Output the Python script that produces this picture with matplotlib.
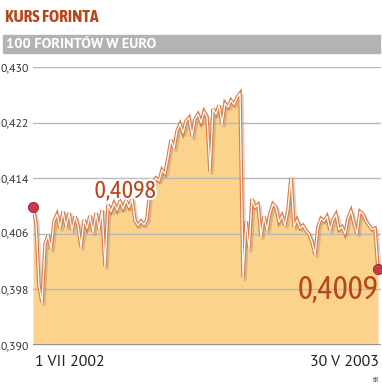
import numpy as np
import matplotlib
matplotlib.use("Agg")
import matplotlib.pyplot as plt
from matplotlib import transforms
import matplotlib.patheffects as pe

# -----------------------------
# data (100 HUF in EUR)
# -----------------------------
rates = [
    0.4098, 0.4075, 0.3985, 0.3961, 0.4045, 0.4058, 0.4038, 0.4078, 0.4088, 0.4068,
    0.4092, 0.4070, 0.4090, 0.4065, 0.4085, 0.4072, 0.4041, 0.4080, 0.4068, 0.4086,
    0.4062, 0.4090, 0.4066, 0.4094, 0.4013, 0.4102, 0.4092, 0.4104, 0.4094, 0.4107,
    0.4096, 0.4108, 0.4098, 0.4110, 0.4079, 0.4072, 0.4078, 0.4073, 0.4081, 0.4125,
    0.4132, 0.4140, 0.4136, 0.4152, 0.4146, 0.4170, 0.4195, 0.4183, 0.4208, 0.4218,
    0.4205, 0.4222, 0.4227, 0.4200, 0.4225, 0.4232, 0.4220, 0.4236, 0.4228, 0.4150,
    0.4240, 0.4232, 0.4245, 0.4218, 0.4248, 0.4242, 0.4252, 0.4246, 0.4256, 0.4262,
    0.3997, 0.4078, 0.4038, 0.4110, 0.4098, 0.4102, 0.4056, 0.4085, 0.4065, 0.4090,
    0.4103, 0.4098, 0.4077, 0.4086, 0.4072, 0.4095, 0.4141, 0.4070, 0.4080, 0.4068,
    0.4072, 0.4064, 0.4060, 0.4048, 0.4030, 0.4070, 0.4082, 0.4078, 0.4085, 0.4065,
    0.4080, 0.4088, 0.4066, 0.4070, 0.4060, 0.4082, 0.4093, 0.4075, 0.4060, 0.4092,
    0.4088, 0.4078, 0.4072, 0.4066, 0.4068, 0.4009,
]
y_ticks = [0.390, 0.398, 0.406, 0.414, 0.422, 0.430]
y_labels = ["0,390", "0,398", "0,406", "0,414", "0,422", "0,430"]
start_label = "1 VII 2002"
end_label = "30 V 2003"
first_value_label = "0,4098"
last_value_label = "0,4009"

orange_txt = "#b8461b"
fill_col = "#fcd38d"
line_col = "#d9804f"
grid_col = "#b8b8b8"

# font lists: first installed family wins, DejaVu as last resort
plain = ["PT Sans", "Open Sans", "DejaVu Sans"]
cond = ["Asap Condensed", "Barlow Condensed", "DejaVu Sans"]
plt.rcParams["font.family"] = plain

x = np.arange(len(rates))
y = np.array(rates)

fig = plt.figure(figsize=(3.82, 3.84), dpi=100)
fig.patch.set_facecolor("white")

# headings
fig.text(5 / 382, 1 - 17 / 384, "KURS FORINTA", color=orange_txt, fontsize=12.5,
         fontweight="bold", family=cond, va="center", ha="left")
fig.patches.append(plt.Rectangle((3 / 382, 1 - 53 / 384), 377 / 382, 18 / 384,
                                 transform=fig.transFigure, color="#b3b3b3", zorder=0))
fig.text(6 / 382, 1 - 44.5 / 384, "100 FORINTÓW W EURO", color="white", fontsize=10.4,
         fontweight="bold", va="center", ha="left")

ax = fig.add_axes([33 / 382, 39 / 384, 348 / 382, 278 / 384])
ax.set_xlim(0, len(rates) - 1 + 1.0)
ax.set_ylim(0.390, 0.430)
for s in ax.spines.values():
    s.set_visible(False)

ax.fill_between(x, 0.390, y, color=fill_col, zorder=1, linewidth=0)
for t in y_ticks[1:]:
    ax.axhline(t, color=grid_col, lw=1.0, zorder=2)
ax.axhline(0.390, color="#8c8c8c", lw=2.0, zorder=2)

# shadow, outline and white core of the line
shadow = transforms.offset_copy(ax.transData, fig=fig, x=1.5, y=-1.5, units="points")
ax.plot(x, y, color="#9a8a70", alpha=0.35, lw=2.4, transform=shadow, zorder=3)
ax.plot(x, y, color=line_col, lw=2.6, zorder=4, solid_joinstyle="miter")
ax.plot(x, y, color="white", lw=0.9, zorder=5)

ax.scatter([x[0], x[-1]], [y[0], y[-1]], s=55, color="#c83a4a", edgecolor="#a02030",
           linewidth=0.6, zorder=6, clip_on=False)

ax.set_yticks(y_ticks)
ax.set_yticklabels(y_labels)
ax.tick_params(axis="y", length=0, pad=3, labelsize=8.5, labelcolor="#333333")
ax.set_xticks([])

halo = [pe.withStroke(linewidth=3, foreground="white")]
ax.text(20.5, 0.4121, first_value_label, color=orange_txt, fontsize=17.5, family=cond,
        ha="left", va="center", zorder=7, path_effects=halo)
ax.text(len(rates) - 1 + 0.3, 0.3979, last_value_label, color=orange_txt, fontsize=23,
        family=cond, ha="right", va="center", zorder=7)

fig.text(35 / 382, 1 - 362 / 384, start_label, fontsize=11.5, color="#222222",
         ha="left", va="center")
fig.text(379 / 382, 1 - 362 / 384, end_label, fontsize=11.5, color="#222222",
         ha="right", va="center")
fig.text(379 / 382, 1 - 380 / 384, "tR", fontsize=5, color="#444444",
         ha="right", va="center")

fig.savefig("out.png", dpi=100)
